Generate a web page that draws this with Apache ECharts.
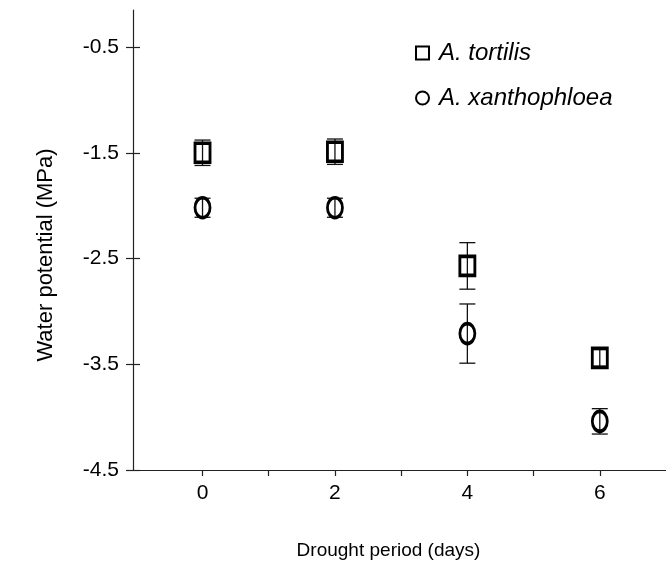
<!DOCTYPE html>
<html><head><meta charset="utf-8">
<script src="https://cdn.jsdelivr.net/npm/echarts@6/dist/echarts.min.js"></script>
<style>html,body{margin:0;padding:0;background:#fff}#c{width:666px;height:584px}</style>
</head><body><div id="c"></div>
<script>
// Data
const days = [0, 2, 4, 6];
const tortilisMean = [-1.50, -1.49, -2.57, -3.44];
const tortilisErr  = [0.12, 0.12, 0.22, 0.08];
const xanthMean = [-2.02, -2.02, -3.21, -4.04];
const xanthErr  = [0.09, 0.09, 0.28, 0.12];
const xTicks = [0, 1, 2, 3, 4, 5, 6];
const xLabels = [0, 2, 4, 6];
const yTicks = [-4.5, -3.5, -2.5, -1.5, -0.5];
const seriesNames = ['A. tortilis', 'A. xanthophloea'];
const xName = 'Drought period (days)';
const yName = 'Water potential (MPa)';

const FONT = '"Liberation Sans", Arial, sans-serif';

function errData(mean, err) {
  return days.map((d, i) => [d, mean[i] - err[i], mean[i] + err[i]]);
}
function pts(mean) { return days.map((d, i) => [d, mean[i]]); }

function errRender(params, api) {
  const x = api.value(0);
  const lo = api.coord([x, api.value(1)]);
  const hi = api.coord([x, api.value(2)]);
  const w = 8;
  const st = { stroke: '#111', lineWidth: 1.3 };
  return {
    type: 'group',
    children: [
      { type: 'line', shape: { x1: hi[0], y1: hi[1], x2: lo[0], y2: lo[1] }, style: st },
      { type: 'line', shape: { x1: hi[0] - w, y1: hi[1], x2: hi[0] + w, y2: hi[1] }, style: st },
      { type: 'line', shape: { x1: lo[0] - w, y1: lo[1], x2: lo[0] + w, y2: lo[1] }, style: st }
    ]
  };
}

const chart = echarts.init(document.getElementById('c'), null, { renderer: 'canvas' });
const axisLineStyle = { color: '#222', width: 1.2 };
chart.setOption({
  animation: false,
  backgroundColor: '#fff',
  textStyle: { fontFamily: FONT, color: '#000' },
  grid: { left: 133, right: 0, top: 10, bottom: 114 },
  legend: {
    orient: 'vertical', left: 410, top: 36,
    itemWidth: 13, itemHeight: 13, itemGap: 21,
    textStyle: { fontFamily: FONT, fontSize: 24, fontStyle: 'italic', color: '#000', padding: [0, 0, 0, 5] },
    data: [
      { name: seriesNames[0], icon: 'rect', itemStyle: { color: 'rgba(0,0,0,0)', borderColor: '#000', borderWidth: 2 } },
      { name: seriesNames[1], icon: 'circle', itemStyle: { color: 'rgba(0,0,0,0)', borderColor: '#000', borderWidth: 2 } }
    ]
  },
  xAxis: {
    type: 'value', min: -1.05, max: 7,
    name: xName, nameLocation: 'middle', nameGap: 71,
    nameTextStyle: { fontFamily: FONT, fontSize: 19, color: '#000', padding: [0, 22, 0, 0] },
    axisLine: { show: true, lineStyle: axisLineStyle },
    axisTick: { show: true, customValues: xTicks, length: 6, lineStyle: axisLineStyle },
    axisLabel: { customValues: xLabels, fontSize: 21, color: '#000', margin: 13 },
    splitLine: { show: false }
  },
  yAxis: [{
    type: 'value', min: -4.5, max: -0.15, position: 'left',
    name: yName, nameLocation: 'middle', nameGap: 76, nameRotate: 90,
    nameTextStyle: { fontFamily: FONT, fontSize: 22, color: '#000', padding: [0, 30, 0, 0] },
    axisLine: { show: true, onZero: false, lineStyle: axisLineStyle },
    axisTick: { show: true, customValues: yTicks, length: 7, lineStyle: axisLineStyle },
    axisLabel: { customValues: yTicks, fontSize: 21, color: '#000', margin: 14 },
    splitLine: { show: false }
  }, {
    type: 'value', min: -4.5, max: -0.15, position: 'left', offset: 0,
    axisLine: { show: false, onZero: false },
    axisTick: { show: true, inside: true, customValues: yTicks, length: 7, lineStyle: axisLineStyle },
    axisLabel: { show: false },
    splitLine: { show: false }
  }],
  series: [
    { name: 'errT', type: 'custom', renderItem: errRender, data: errData(tortilisMean, tortilisErr), z: 2 },
    { name: 'errX', type: 'custom', renderItem: errRender, data: errData(xanthMean, xanthErr), z: 2 },
    {
      name: seriesNames[0], type: 'scatter', data: pts(tortilisMean),
      symbol: 'rect', symbolSize: [15, 19], z: 3,
      itemStyle: { color: 'rgba(0,0,0,0)', borderColor: '#000', borderWidth: 3.2, opacity: 1 }
    },
    {
      name: seriesNames[1], type: 'scatter', data: pts(xanthMean),
      symbol: 'circle', symbolSize: [15, 20], z: 3,
      itemStyle: { color: 'rgba(0,0,0,0)', borderColor: '#000', borderWidth: 3.2, opacity: 1 }
    }
  ]
});
</script>
</body></html>
